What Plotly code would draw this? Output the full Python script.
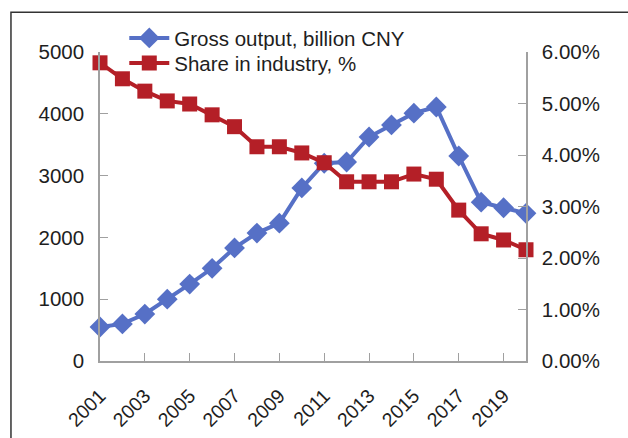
import plotly.graph_objects as go

years = list(range(2001, 2021))
gross_output = [550, 600, 760, 1000, 1245, 1500, 1830, 2070, 2230, 2800,
                3200, 3220, 3625, 3820, 4010, 4110, 3317, 2570, 2480, 2390]
share_pct = [5.79, 5.48, 5.24, 5.05, 4.99, 4.78, 4.55, 4.16, 4.16, 4.04,
             3.85, 3.48, 3.48, 3.48, 3.63, 3.53, 2.93, 2.47, 2.35, 2.16]
share = [v / 100 for v in share_pct]
x_tick_years = list(range(2001, 2020, 2))

BLUE = "#5670C6"
RED = "#B41F27"
AXIS = "#A0A0A0"
FONT = "Liberation Sans, Arial, sans-serif"
TXT = "#1e1e1e"

fig = go.Figure()
fig.add_trace(go.Scatter(
    x=years, y=gross_output, name="Gross output, billion CNY",
    mode="lines+markers",
    line=dict(color=BLUE, width=4),
    marker=dict(symbol="diamond", size=16, color=BLUE),
    cliponaxis=False, legend="legend",
))
fig.add_trace(go.Scatter(
    x=years, y=share, name="Share in industry, %", yaxis="y2",
    mode="lines+markers",
    line=dict(color=RED, width=4),
    marker=dict(symbol="square", size=15, color=RED),
    cliponaxis=False, legend="legend2",
))

leg_common = dict(xanchor="left", yanchor="middle", bgcolor="rgba(0,0,0,0)",
                  font=dict(size=20.5, color=TXT), itemwidth=40)

fig.update_layout(
    width=628, height=438,
    margin=dict(l=100, r=102, t=52, b=77, autoexpand=False),
    paper_bgcolor="white", plot_bgcolor="white",
    font=dict(family=FONT, size=20.5, color=TXT),
    showlegend=True,
    legend=dict(x=0.057, y=1.045, **leg_common),
    legend2=dict(x=0.057, y=0.964, **leg_common),
    xaxis=dict(range=[2001, 2020], tickvals=x_tick_years,
               ticktext=[str(y) for y in x_tick_years],
               tickangle=-45, ticks="inside", ticklen=8, tickcolor=AXIS,
               tickfont=dict(size=19.5),
               showline=True, linecolor=AXIS, linewidth=1.5,
               showgrid=False, zeroline=False, ticklabelstandoff=14,
               automargin=False),
    yaxis=dict(range=[0, 5000], dtick=1000, ticks="inside", ticklen=8,
               tickcolor=AXIS, showline=True, linecolor=AXIS, linewidth=1.5,
               showgrid=False, zeroline=False, ticklabelstandoff=10,
               automargin=False),
    yaxis2=dict(range=[0, 0.06], dtick=0.01, tickformat=".2%",
                overlaying="y", side="right", ticks="inside", ticklen=8,
                tickcolor=AXIS, showline=True, linecolor=AXIS, linewidth=1.5,
                showgrid=False, zeroline=False, ticklabelstandoff=10,
                automargin=False),
    shapes=[dict(type="rect", xref="paper", yref="paper",
                 x0=-0.209, x1=1.6, y0=-0.6, y1=1.129,
                 line=dict(color="#333333", width=1.5), layer="below")],
)

fig.write_html("out.html")
